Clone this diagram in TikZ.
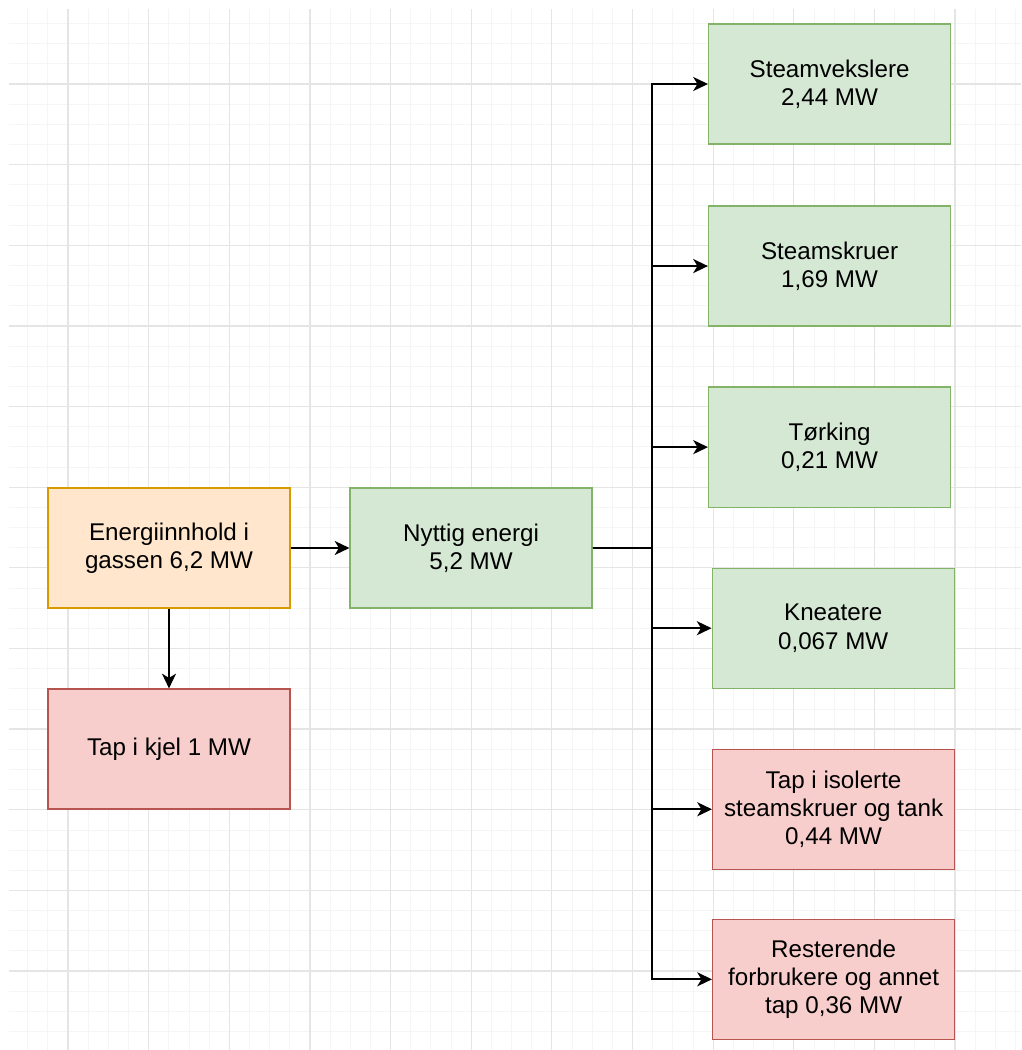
\documentclass[tikz,border=0pt]{standalone}
\usepackage{fontspec}
\setmainfont{Liberation Sans}
\usepackage{tikz}
\usetikzlibrary{positioning, arrows.meta, backgrounds}
\definecolor{ebgreen}{HTML}{D5E8D4}
\definecolor{ebgreenline}{HTML}{82B366}
\definecolor{eborange}{HTML}{FFE6CC}
\definecolor{eborangeline}{HTML}{D79B00}
\definecolor{ebred}{HTML}{F8CECC}
\definecolor{ebredline}{HTML}{B85450}
\tikzset{
  >={Stealth[length=10.5pt, width=10pt, inset=3pt]},
  eb box/.style={rectangle, minimum width=6.05cm, minimum height=3cm,
    align=center, line width=0.9pt, inner sep=2pt,
    font=\fontsize{17.2}{20.2}\selectfont},
  eb src/.style={eb box, draw=eborangeline, fill=eborange},
  eb use/.style={eb box, draw=ebgreenline, fill=ebgreen},
  eb loss/.style={eb box, draw=ebredline, fill=ebred},
  eb flow/.style={draw=black, ->, line width=1.25pt},
  eb minor/.style={draw=black!4, line width=0.6pt},
  eb major/.style={draw=black!10, line width=0.9pt},
}
\begin{document}
\begin{tikzpicture}
 \useasboundingbox (0,0) rectangle (25.525,-26.25);
 \node[eb src] (gas) at (4.225,-13.7) {Energiinnhold i\\gassen 6,2 MW};
 \node[eb loss, below=1.995cm of gas] (kjel) {Tap i kjel 1 MW};
 \node[eb use, right=1.47cm of gas] (nyttig) {Nyttig energi\\5,2 MW};
 \node[eb use] (sv) at (20.74,-2.1) {Steamvekslere\\2,44 MW};
 \node[eb use, below=1.52cm of sv] (ss) {Steamskruer\\1,69 MW};
 \node[eb use, below=1.495cm of ss] (tk) {Tørking\\0,21 MW};
 \node[eb use, below=1.495cm of tk, xshift=0.09cm] (kn) {Kneatere\\0,067 MW};
 \node[eb loss, below=1.495cm of kn, xshift=0.01cm] (iso)
   {Tap i isolerte\\steamskruer og tank\\0,44 MW};
 \node[eb loss, below=1.22cm of iso] (rest)
   {Resterende\\forbrukere og annet\\tap 0,36 MW};
 \coordinate[right=1.475cm of nyttig.east] (bus);
 \begin{scope}[on background layer]
   % drawing-paper grid
   \foreach \i in {-2,...,47}
     \draw[eb minor] ({1.7+0.504*\i},-0.225) -- ({1.7+0.504*\i},-26.25);
   \foreach \i in {-3,...,47}
     \draw[eb minor] (0.225,{-2.1-0.504*\i}) -- (25.525,{-2.1-0.504*\i});
   \foreach \i in {0,...,11}{
     \draw[eb major] ({1.7+2.016*\i},-0.225) -- ({1.7+2.016*\i},-26.25);
     \draw[eb major] (0.225,{-2.1-2.016*\i}) -- (25.525,{-2.1-2.016*\i});
   }
 \end{scope}
 \draw[eb flow] (gas) -- (kjel);
 \draw[eb flow] (gas) -- (nyttig);
 \foreach \t in {sv,ss,tk,kn,iso,rest}
   \draw[eb flow] (nyttig.east) -- (bus) |- (\t.west);
\end{tikzpicture}
\end{document}
